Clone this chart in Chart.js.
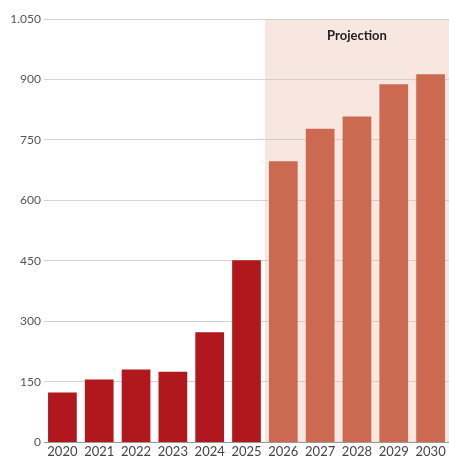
<!DOCTYPE html>
<html>
<head>
<meta charset="utf-8">
<script src="https://cdn.jsdelivr.net/npm/chart.js@4.4.1/dist/chart.umd.min.js"></script>
<style>
    html, body { margin: 0; padding: 0; background: #fff; }
    #wrap { width: 449px; height: 461px; position: relative; }
</style>
</head>
<body>
<div id="wrap"><canvas id="chart"></canvas></div>
<script>
const YEARS = ['2020', '2021', '2022', '2023', '2024', '2025', '2026', '2027', '2028', '2029', '2030'];
const VALUES = [124, 156, 181, 175, 273, 452, 697, 778, 808, 888, 913];
const PROJECTION_START = '2026';
const PROJECTION_LABEL = 'Projection';

const ACTUAL_COLOR = '#b0181d';
const PROJECTION_COLOR = '#cb6a51';
const PROJECTION_BG = '#f8e7e0';
const GRID_COLOR = 'rgba(200, 200, 200, 0.8)';
const FONT = 'Lato, "Open Sans", sans-serif';

var startIndex = YEARS.indexOf(PROJECTION_START);
var barColors = YEARS.map((y, i) => i >= startIndex ? PROJECTION_COLOR : ACTUAL_COLOR);

var projectionPlugin = {
    id: 'projection',
    beforeDraw(chart) {
        var ctx = chart.ctx;
        var area = chart.chartArea;
        var x = chart.scales.x;
        var half = (x.getPixelForValue(1) - x.getPixelForValue(0)) / 2;
        var left = x.getPixelForValue(startIndex) - half;
        ctx.save();
        ctx.fillStyle = PROJECTION_BG;
        ctx.fillRect(left, area.top, area.right - left, area.bottom - area.top);
        ctx.fillStyle = '#222';
        ctx.font = 'bold 13px ' + FONT;
        ctx.textAlign = 'center';
        ctx.textBaseline = 'middle';
        ctx.fillText(PROJECTION_LABEL, (left + area.right) / 2, area.top + 17);
        ctx.restore();
    }
};

var canvas = document.getElementById('chart');
var ctx = canvas.getContext('2d');
new Chart(ctx, {
    type: 'bar',
    data: {
        labels: YEARS,
        datasets: [{
            data: VALUES,
            backgroundColor: barColors,
            borderWidth: 0,
            barPercentage: 1,
            categoryPercentage: 0.78
        }]
    },
    options: {
        responsive: true,
        maintainAspectRatio: false,
        animation: false,
        locale: 'de-DE',
        layout: {
            padding: { top: 19, right: 0, bottom: 0, left: 0 }
        },
        plugins: {
            legend: { display: false },
            tooltip: { enabled: false }
        },
        scales: {
            x: {
                grid: { display: false, drawTicks: false },
                border: { display: true, color: '#999', width: 1 },
                ticks: {
                    color: '#444',
                    font: { family: FONT, size: 13 },
                    padding: 1.5,
                    maxRotation: 0,
                    autoSkip: false
                }
            },
            y: {
                min: 0,
                max: 1050,
                afterFit(scale) { scale.width = 44; },
                grid: { color: GRID_COLOR, drawTicks: false },
                border: { display: false },
                ticks: {
                    stepSize: 150,
                    color: '#555',
                    font: { family: FONT, size: 12 },
                    padding: 3
                }
            }
        }
    },
    plugins: [projectionPlugin]
});
</script>
</body>
</html>
